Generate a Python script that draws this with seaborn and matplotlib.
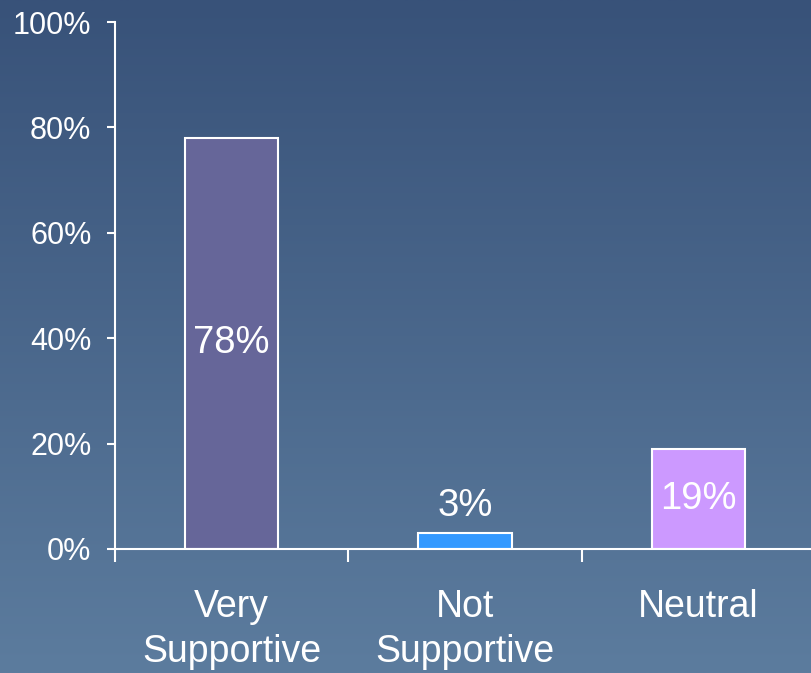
#!/usr/bin/env python3

import numpy as np
import matplotlib
matplotlib.use('Agg')
import matplotlib.pyplot as plt
from matplotlib.colors import LinearSegmentedColormap
from matplotlib.ticker import FixedLocator, PercentFormatter
import seaborn as sns

# -> DATA
categories = ['Very\nSupportive', 'Not\nSupportive', 'Neutral']
values = [78, 3, 19]
bar_colors = ['#666699', '#3399FF', '#CC99FF']
yticks = [0, 20, 40, 60, 80, 100]

# -> STYLE
sns.set_style('white')
plt.rcParams['font.family'] = ['Liberation Sans', 'DejaVu Sans']

fig = plt.figure(figsize=(8.11, 6.73), dpi=100)

# background gradient (dark blue at the top, lighter at the bottom)
bg = fig.add_axes([0, 0, 1, 1], zorder=0)
grad_cmap = LinearSegmentedColormap.from_list('bg', ['#385279', '#5c7c9e'])
bg.imshow(np.linspace(0, 1, 256).reshape(-1, 1), aspect='auto', cmap=grad_cmap,
          extent=[0, 1, 0, 1], origin='upper')
bg.axis('off')

ax = fig.add_axes([115 / 811, 124 / 673, 696 / 811, 527 / 673], zorder=1)
ax.patch.set_alpha(0)

sns.barplot(x=categories, y=values, hue=categories, palette=bar_colors,
            width=0.4, edgecolor='white', linewidth=1.5, legend=False,
            saturation=1, ax=ax)

ax.set_ylim(0, 100)
ax.set_xlim(-0.5, 2.5 - 4 / 233.5)
ax.set_xlabel('')
ax.set_ylabel('')

# value labels: inside the bar, or above it when the bar is too short
for i, v in enumerate(values):
    if v >= 10:
        ax.text(i, v / 2, f'{v}%', ha='center', va='center', color='white', fontsize=27.5)
    else:
        ax.text(i, v + 1.8, f'{v}%', ha='center', va='bottom', color='white', fontsize=27.5)

# axes styling
for side in ['top', 'right']:
    ax.spines[side].set_visible(False)
for side in ['left', 'bottom']:
    ax.spines[side].set_color('white')
    ax.spines[side].set_linewidth(1.5)

ax.set_yticks(yticks)
ax.yaxis.set_major_formatter(PercentFormatter(decimals=0))
ax.tick_params(axis='y', colors='white', labelsize=22, length=6, width=1.5,
               direction='out', pad=11, left=True)
ax.tick_params(axis='x', which='major', colors='white', labelsize=27, length=0, pad=29)
ax.xaxis.set_minor_locator(FixedLocator([-0.5, 0.5, 1.5]))
ax.tick_params(axis='x', which='minor', color='white', length=9, width=1.5,
               direction='out', bottom=True)
for lbl in ax.get_xticklabels():
    lbl.set_linespacing(1.3)

fig.savefig('out.png', dpi=100)
